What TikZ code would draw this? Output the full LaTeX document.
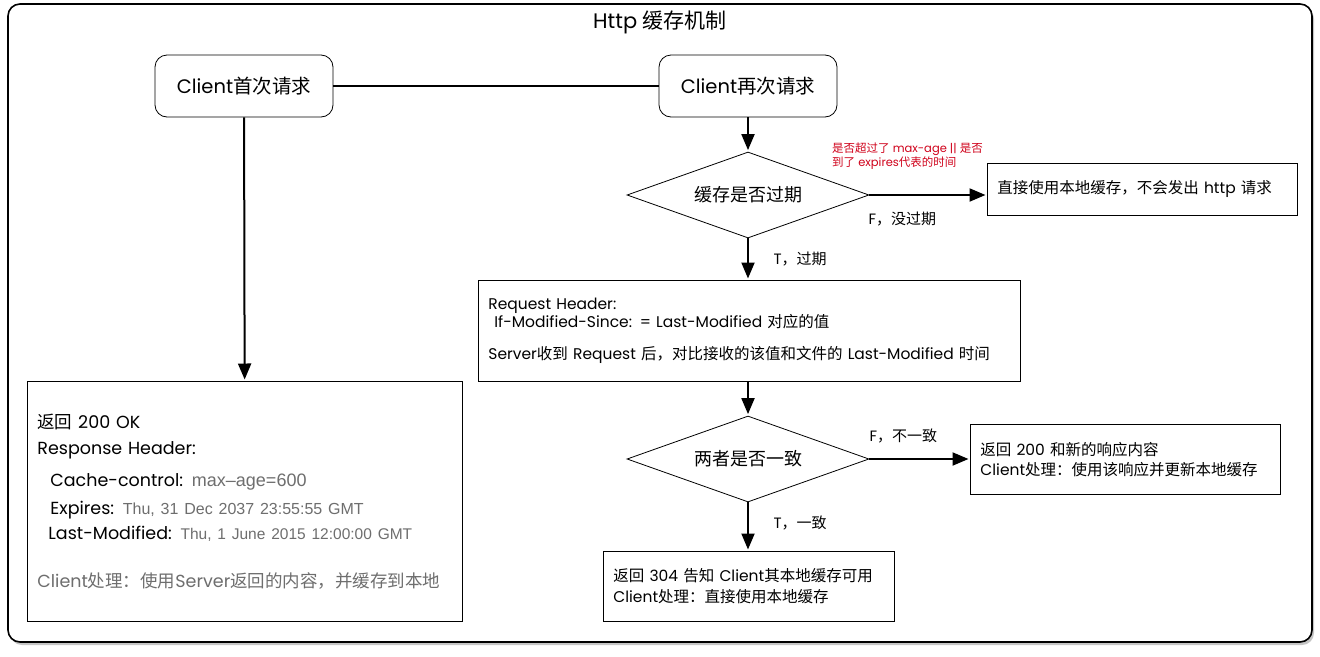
\documentclass[tikz,border=0pt]{standalone}
\usepackage{fontspec}
\setmainfont{Poppins}
\newfontfamily\cjkfont{Noto Sans CJK SC}
\newfontfamily\helv{Liberation Sans}
\usetikzlibrary{shapes.geometric,arrows.meta,shadows}
\definecolor{notered}{HTML}{D0021B}
\definecolor{softgray}{HTML}{6E6E6E}
% CJK characters switch to the CJK family
\newXeTeXintercharclass\cjkclass
\count255="4E00 \loop \XeTeXcharclass\count255=\cjkclass \ifnum\count255<"9FFF \advance\count255 by 1 \repeat
\count255="3000 \loop \XeTeXcharclass\count255=\cjkclass \ifnum\count255<"303F \advance\count255 by 1 \repeat
\count255="FF00 \loop \XeTeXcharclass\count255=\cjkclass \ifnum\count255<"FFEF \advance\count255 by 1 \repeat
\XeTeXinterchartoks 0 \cjkclass = {\cjkfont}
\XeTeXinterchartoks 4095 \cjkclass = {\cjkfont}
\XeTeXinterchartoks \cjkclass 0 = {\rmfamily}
\XeTeXinterchartoks \cjkclass 4095 = {\rmfamily}
\XeTeXinterchartokenstate=1

\begin{document}
\begin{tikzpicture}[x=1pt,y=-1pt,
		startbox/.style={draw,rounded corners=12pt,line width=0.8pt,minimum width=178pt,minimum height=62pt,font=\fontsize{19.5}{22}\selectfont},
		infobox/.style={draw,line width=0.8pt,align=left,anchor=north west,inner xsep=10pt,inner ysep=0pt,font=\fontsize{15.5}{20}\selectfont},
		check/.style={draw,diamond,aspect=2.8,line width=0.8pt,inner sep=0pt,minimum width=242pt,minimum height=86pt,font=\fontsize{18}{20}\selectfont},
		flow/.style={line width=2pt,shorten >=1.5pt,-{Triangle[length=16pt,width=13pt]}},
		tag/.style={anchor=west,font=\fontsize{15}{16}\selectfont}]
				\useasboundingbox (0,0) rectangle (1320,656);
				\draw[line width=1.6pt,rounded corners=12pt,fill=white,drop shadow={shadow xshift=2pt,shadow yshift=-3pt,fill=black!45}] (8,4) rectangle (1312,642);
				\node[font=\fontsize{21}{24}\selectfont] (title) at (660,22) {Http 缓存机制};
				% first request
				\node[startbox] (first) at (244,86) {Client首次请求};
				\node[infobox,text width=415pt,minimum height=240pt,font=\fontsize{17.5}{26}\selectfont] (resp) at (27,381) {返回 200 OK\\
					Response Header:\\[6pt]
					\hspace*{13pt}Cache-control: {\helv\color{softgray}\fontsize{18}{20}\selectfont max–age=600}\\[2pt]
					\hspace*{13pt}Expires: {\helv\color{softgray}\fontsize{16}{20}\selectfont Thu, 31 Dec 2037 23:55:55 GMT}\\[-1pt]
					\hspace*{11pt}Last-Modified: {\helv\color{softgray}\fontsize{15.5}{20}\selectfont Thu, 1 June 2015 12:00:00 GMT}\\[22pt]
					{\color{softgray}Client处理：使用Server返回的内容，并缓存到本地}};
				% second request
				\node[startbox] (second) at (748,86) {Client再次请求};
				\node[check] (expired) at (748,195) {缓存是否过期};
				\node[anchor=north west,align=left,text=notered,inner sep=0pt,font=\fontsize{11.5}{11.5}\selectfont] (note) at (832,143) {是否超过了 max-age || 是否\\到了 expires代表的时间};
				\node[infobox,text width=290pt,minimum height=52pt] (direct) at (987,163) {直接使用本地缓存，不会发出 http 请求};
				\node[tag] (nofresh) at (865,219) {F，没过期};
				\node[tag] (stale) at (770,259) {T，过期};
				\node[infobox,text width=522pt,minimum height=101pt,font=\fontsize{15.5}{18}\selectfont] (req) at (478,280) {Request Header:\\
					\hspace*{6pt}If-Modified-Since: = Last-Modified 对应的值\\[14pt]
					Server收到 Request 后，对比接收的该值和文件的 Last-Modified 时间};
				\node[check] (same) at (748,459) {两者是否一致};
				\node[infobox,text width=290pt,minimum height=70pt] (fresh) at (970,424) {返回 200 和新的响应内容\\Client处理：使用该响应并更新本地缓存};
				\node[tag] (differ) at (866,436) {F，不一致};
				\node[tag] (match) at (770,523) {T，一致};
				\node[infobox,text width=271pt,minimum height=70pt,font=\fontsize{15.5}{21}\selectfont] (notmod) at (603,551) {返回 304 告知 Client其本地缓存可用\\Client处理：直接使用本地缓存};
				% connectors
				\draw[line width=2pt] (first) -- (second);
				\draw[flow] (first) -- (resp);
				\draw[flow] (second) -- (expired);
				\draw[flow] (expired.east) -- (expired.east -| direct.west);
				\draw[flow] (expired) -- (expired.south |- req.north);
				\draw[flow] (expired.south |- req.south) -- (same);
				\draw[flow] (same.east) -- (same.east -| fresh.west);
				\draw[flow] (same) -- (same.south |- notmod.north);
			\end{tikzpicture}
\end{document}
